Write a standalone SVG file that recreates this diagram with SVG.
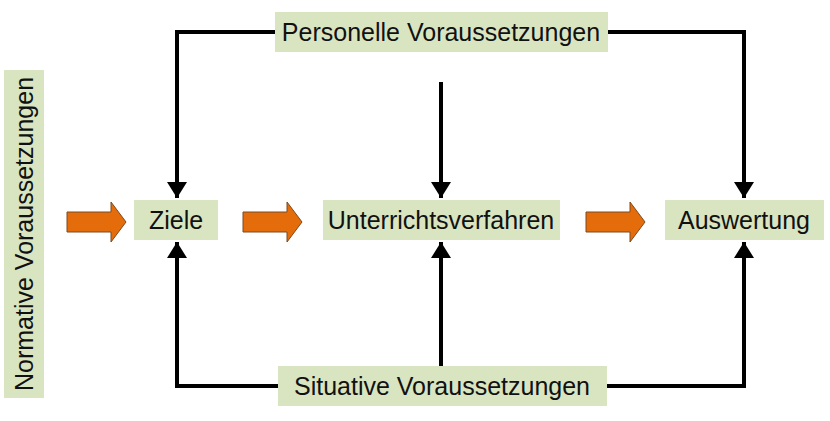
<svg xmlns="http://www.w3.org/2000/svg" width="830" height="421" viewBox="0 0 830 421">
<defs>
<style>
.box{fill:#d9e5c1}
.t{font-family:"Liberation Sans",Arial,sans-serif;font-size:25px;fill:#111;text-anchor:middle;dominant-baseline:central}
.c{fill:none;stroke:#000;stroke-width:4}
.o{fill:#e46c0a;stroke:#7a4a20;stroke-width:1}
</style>
<marker id="ah" markerWidth="4" markerHeight="5" refX="4" refY="2.5" orient="auto" markerUnits="strokeWidth"><path d="M0,0L4,2.5L0,5z" fill="#000"/></marker>
</defs>
<rect width="830" height="421" fill="#fff"/>
<g id="connectors">
<path class="c" d="M275,32H177V198" marker-end="url(#ah)"/>
<path class="c" d="M441,82V198" marker-end="url(#ah)"/>
<path class="c" d="M608,32H744V198" marker-end="url(#ah)"/>
<path class="c" d="M278,386H177V242" marker-end="url(#ah)"/>
<path class="c" d="M441,366V242" marker-end="url(#ah)"/>
<path class="c" d="M607,386H744V242" marker-end="url(#ah)"/>
<path class="o" d="M67,212H111V202L126,222L111,242V232H67Z"/>
<path class="o" d="M243,212H287V202L302,222L287,242V232H243Z"/>
<path class="o" d="M586,212H630V202L645,222L630,242V232H586Z"/>
</g>
<g id="personelle"><rect class="box" x="275" y="12" width="333" height="40"/><text class="t" x="441" y="32">Personelle Voraussetzungen</text></g>
<g id="normative"><rect class="box" x="4" y="70" width="40" height="328"/><text class="t" transform="translate(24,234) rotate(-90)">Normative Voraussetzungen</text></g>
<g id="ziele"><rect class="box" x="134" y="200" width="84" height="40"/><text class="t" x="176" y="220">Ziele</text></g>
<g id="unterricht"><rect class="box" x="323" y="200" width="237" height="40"/><text class="t" x="441" y="220">Unterrichtsverfahren</text></g>
<g id="auswertung"><rect class="box" x="665" y="200" width="159" height="40"/><text class="t" x="744" y="220">Auswertung</text></g>
<g id="situative"><rect class="box" x="278" y="366" width="329" height="40"/><text class="t" x="442" y="386">Situative Voraussetzungen</text></g>
</svg>
